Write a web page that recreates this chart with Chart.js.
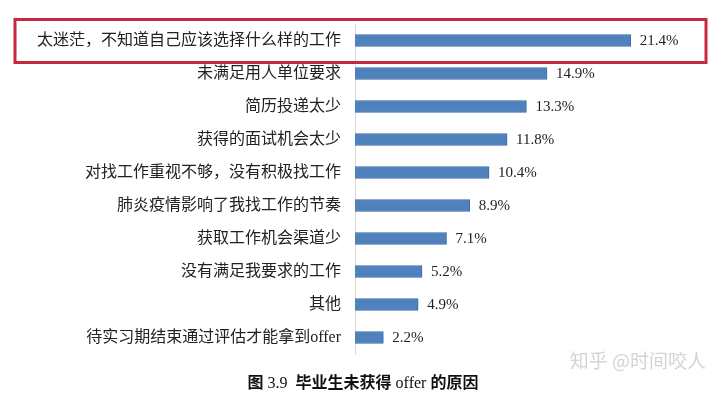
<!DOCTYPE html>
<html>
<head>
<meta charset="utf-8">
<script src="https://cdn.jsdelivr.net/npm/chart.js@4.4.1/dist/chart.umd.min.js"></script>
<style>
  html, body { margin: 0; padding: 0; background: #fff; }
  #wrap { width: 720px; height: 409px; }
</style>
</head>
<body>
<div id="wrap"><canvas id="reasonChart" width="720" height="409"></canvas></div>
<script>
// Reasons graduates did not get an offer (%)
const reasons = [
    '太迷茫，不知道自己应该选择什么样的工作',
    '未满足用人单位要求',
    '简历投递太少',
    '获得的面试机会太少',
    '对找工作重视不够，没有积极找工作',
    '肺炎疫情影响了我找工作的节奏',
    '获取工作机会渠道少',
    '没有满足我要求的工作',
    '其他',
    '待实习期结束通过评估才能拿到offer'
];
const shares = [21.4, 14.9, 13.3, 11.8, 10.4, 8.9, 7.1, 5.2, 4.9, 2.2];
// caption pieces: [text, bold]
const captionParts = [['图', true], [' 3.9  ', false], ['毕业生未获得', true], [' offer ', false], ['的原因', true]];
const watermark = '知乎 @时间咬人';

const FONT = "'Liberation Serif', 'Noto Sans CJK SC', serif";

// value labels, highlight box, caption and watermark
const extras = {
    id: 'extras',
    afterDatasetsDraw(chart) {
        const ctx = chart.ctx;
        const meta = chart.getDatasetMeta(0);
        ctx.save();
        ctx.font = '15px ' + FONT;
        ctx.fillStyle = '#222';
        ctx.textBaseline = 'middle';
        ctx.textAlign = 'left';
        meta.data.forEach((bar, i) => {
            ctx.fillText(shares[i].toFixed(1) + '%', bar.x + 9, bar.y + 1);
        });

        // red box around the first row
        const y0 = chart.scales.y.getPixelForValue(0);
        ctx.strokeStyle = '#c8283f';
        ctx.lineWidth = 3;
        ctx.strokeRect(15, y0 - 21, 691, 43);

        // caption, centred
        const fontFor = (b) => (b ? 'bold ' : '') + '16px ' + FONT;
        let total = 0;
        captionParts.forEach(([t, b]) => { ctx.font = fontFor(b); total += ctx.measureText(t).width; });
        let cx = 363 - total / 2;
        ctx.fillStyle = '#111';
        captionParts.forEach(([t, b]) => {
            ctx.font = fontFor(b);
            ctx.fillText(t, cx, 384);
            cx += ctx.measureText(t).width;
        });

        // watermark
        ctx.font = '19px "Noto Sans CJK SC", sans-serif';
        ctx.fillStyle = '#d4d4d4';
        ctx.textAlign = 'right';
        ctx.fillText(watermark, 706, 361);
        ctx.restore();
    }
};

const ctx = document.getElementById('reasonChart').getContext('2d');
new Chart(ctx, {
    type: 'bar',
    data: {
        labels: reasons,
        datasets: [{
            data: shares,
            backgroundColor: '#4f81bd',
            borderColor: '#3c6ca5',
            borderWidth: 1,
            barThickness: 12
        }]
    },
    options: {
        indexAxis: 'y',
        responsive: false,
        animation: false,
        layout: { padding: { left: 0, right: 17, top: 24, bottom: 55 } },
        plugins: {
            legend: { display: false },
            tooltip: { enabled: false }
        },
        scales: {
            x: {
                display: false,
                min: 0,
                max: 27
            },
            y: {
                afterFit(scale) { scale.width = 355; },
                grid: { display: false, drawTicks: false },
                border: { display: true, color: '#d9d9d9', width: 1 },
                ticks: {
                    padding: 14,
                    color: '#222',
                    font: { family: FONT, size: 16 }
                }
            }
        }
    },
    plugins: [extras]
});
</script>
</body>
</html>
